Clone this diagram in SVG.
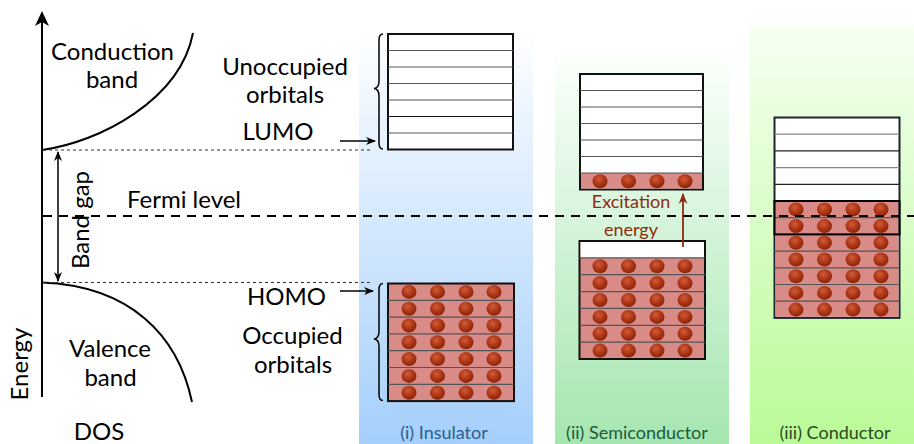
<svg xmlns="http://www.w3.org/2000/svg" xmlns:xlink="http://www.w3.org/1999/xlink" width="914" height="444" viewBox="0 0 914 444">
  <style>
    text { font-family: Lato, "Noto Sans", sans-serif; fill: #000; }
    .lbl { font-size: 24px; }
    .cap { font-size: 18px; text-anchor: middle; }
    .mid { text-anchor: middle; }
    .box { fill: #fff; stroke: #111; stroke-width: 2; }
    .occ { fill: #d98b87; }
    .row { stroke: #555; stroke-width: 1.2; }
    .ax { stroke: #000; stroke-width: 2; fill: none; }
    .thin { stroke: #333; stroke-width: 1; stroke-dasharray: 3 3; fill: none; }
    .fermi { stroke: #000; stroke-width: 2; stroke-dasharray: 9 7; fill: none; }
    .brace { stroke: #000; stroke-width: 1.5; fill: none; }
  </style>
  <defs>
    <linearGradient id="gBlue" x1="0" y1="0" x2="0" y2="1">
      <stop offset="0" stop-color="#ffffff"/>
      <stop offset="1" stop-color="#a5cffb"/>
    </linearGradient>
    <linearGradient id="gSemi" x1="0" y1="0" x2="0" y2="1">
      <stop offset="0" stop-color="#fbfffb"/>
      <stop offset="1" stop-color="#a5e6b0"/>
    </linearGradient>
    <linearGradient id="gCond" x1="0" y1="0" x2="0" y2="1">
      <stop offset="0" stop-color="#f6fff2"/>
      <stop offset="1" stop-color="#b9fa96"/>
    </linearGradient>
    <radialGradient id="eg" cx="0.42" cy="0.35" r="0.7">
      <stop offset="0" stop-color="#cf5c38"/>
      <stop offset="0.5" stop-color="#b03818"/>
      <stop offset="1" stop-color="#862006"/>
    </radialGradient>
    <g id="row4">
      <ellipse cx="21" cy="0" rx="7.5" ry="7" fill="url(#eg)"/>
      <ellipse cx="49.5" cy="0" rx="7.5" ry="7" fill="url(#eg)"/>
      <ellipse cx="78" cy="0" rx="7.5" ry="7" fill="url(#eg)"/>
      <ellipse cx="106" cy="0" rx="7.5" ry="7" fill="url(#eg)"/>
    </g>
    <marker id="ah" viewBox="0 0 10 10" refX="9" refY="5" markerWidth="10" markerHeight="10" markerUnits="userSpaceOnUse" orient="auto-start-reverse">
      <path d="M0,1 L10,5 L0,9 L3,5 z" fill="#000"/>
    </marker>
    <marker id="ahRed" viewBox="0 0 10 10" refX="9" refY="5" markerWidth="11" markerHeight="11" markerUnits="userSpaceOnUse" orient="auto">
      <path d="M0,1 L10,5 L0,9 L3,5 z" fill="#8b2b10"/>
    </marker>
  </defs>

  <!-- coloured background panels -->
  <rect x="359" y="27" width="174" height="417" fill="url(#gBlue)"/>
  <rect x="555" y="57" width="174" height="387" fill="url(#gSemi)"/>
  <rect x="750" y="25" width="164" height="419" fill="url(#gCond)"/>

  <!-- density of states sketch -->
  <g id="dos">
    <line class="ax" x1="42" y1="397" x2="42" y2="16"/>
    <path d="M35,26 L42,11 L49,26 L42,22 z" fill="#000"/>
    <path class="ax" d="M42,150 C100,142 180,100 193,33"/>
    <path class="ax" d="M42,282.5 C130,286 178,335 192,402"/>
    <text class="lbl mid" x="112.5" y="60">Conduction</text>
    <text class="lbl mid" x="112" y="88">band</text>
    <text class="lbl mid" x="110" y="357">Valence</text>
    <text class="lbl mid" x="110.5" y="386">band</text>
    <text class="lbl mid" transform="translate(28,364) rotate(-90)">Energy</text>
    <text class="lbl mid" x="99" y="440">DOS</text>
  </g>

  <g id="band-gap">
    <line x1="58" y1="152" x2="58" y2="281" stroke="#000" stroke-width="1.5" marker-start="url(#ah)" marker-end="url(#ah)"/>
    <text class="lbl mid" transform="translate(89,220) rotate(-90)">Band gap</text>
  </g>

  <g id="labels">
    <text class="lbl mid" x="285" y="75">Unoccupied</text>
    <text class="lbl mid" x="285" y="103">orbitals</text>
    <text class="lbl mid" x="278" y="140">LUMO</text>
    <text class="lbl" x="127" y="208">Fermi level</text>
    <text class="lbl mid" x="286.5" y="305">HOMO</text>
    <text class="lbl mid" x="292.5" y="344">Occupied</text>
    <text class="lbl mid" x="293" y="372.5">orbitals</text>
  </g>

  <!-- (i) insulator -->
  <g id="insulator-empty">
    <rect class="box" x="388" y="34" width="125" height="115.5"/>
    <g class="row">
      <line x1="388" y1="50.5" x2="513" y2="50.5"/>
      <line x1="388" y1="67" x2="513" y2="67"/>
      <line x1="388" y1="83.5" x2="513" y2="83.5"/>
      <line x1="388" y1="100" x2="513" y2="100"/>
      <line x1="388" y1="116.5" x2="513" y2="116.5" stroke="#111"/>
      <line x1="388" y1="133" x2="513" y2="133"/>
    </g>
    <path class="brace" d="M383,34 q-4,0 -4,6 v41 q0,7 -5,7.5 q5,0.5 5,7.5 v47 q0,6 4,6"/>
  </g>
  <g id="insulator-full">
    <rect class="box occ" x="388" y="283.5" width="126" height="117.6"/>
    <g class="row">
      <line x1="388" y1="300.3" x2="514" y2="300.3"/>
      <line x1="388" y1="317.1" x2="514" y2="317.1"/>
      <line x1="388" y1="333.9" x2="514" y2="333.9"/>
      <line x1="388" y1="350.7" x2="514" y2="350.7"/>
      <line x1="388" y1="367.5" x2="514" y2="367.5"/>
      <line x1="388" y1="384.3" x2="514" y2="384.3"/>
    </g>
    <use href="#row4" x="388" y="291.9"/>
    <use href="#row4" x="388" y="308.7"/>
    <use href="#row4" x="388" y="325.5"/>
    <use href="#row4" x="388" y="342.3"/>
    <use href="#row4" x="388" y="359.1"/>
    <use href="#row4" x="388" y="375.9"/>
    <use href="#row4" x="388" y="392.7"/>
    <path class="brace" d="M383,283.5 q-4,0 -4,6 v42 q0,7 -5,7.5 q5,0.5 5,7.5 v48 q0,6 4,6"/>
  </g>
  <text class="cap" x="444" y="439" style="fill:#2c5e8e">(i) Insulator</text>

  <!-- (ii) semiconductor -->
  <g id="semi-upper">
    <rect class="box" x="580" y="74" width="123" height="115.5"/>
    <rect class="occ" x="581" y="173" width="121" height="15.5"/>
    <g class="row">
      <line x1="580" y1="90.5" x2="703" y2="90.5"/>
      <line x1="580" y1="107" x2="703" y2="107"/>
      <line x1="580" y1="123.5" x2="703" y2="123.5"/>
      <line x1="580" y1="140" x2="703" y2="140"/>
      <line x1="580" y1="156.5" x2="703" y2="156.5"/>
      <line x1="580" y1="173" x2="703" y2="173"/>
    </g>
    <use href="#row4" x="579" y="181.3"/>
  </g>
  <g id="semi-lower">
    <rect class="box occ" x="579.5" y="241" width="125.5" height="118"/>
    <rect x="580.5" y="242" width="123.5" height="15.9" fill="#fff"/>
    <g class="row">
      <line x1="579.5" y1="257.9" x2="705" y2="257.9"/>
      <line x1="579.5" y1="274.7" x2="705" y2="274.7"/>
      <line x1="579.5" y1="291.6" x2="705" y2="291.6"/>
      <line x1="579.5" y1="308.4" x2="705" y2="308.4"/>
      <line x1="579.5" y1="325.3" x2="705" y2="325.3"/>
      <line x1="579.5" y1="342.1" x2="705" y2="342.1"/>
    </g>
    <use href="#row4" x="579" y="266.3"/>
    <use href="#row4" x="579" y="283.1"/>
    <use href="#row4" x="579" y="300"/>
    <use href="#row4" x="579" y="316.9"/>
    <use href="#row4" x="579" y="333.7"/>
    <use href="#row4" x="579" y="350.6"/>
  </g>
  <text class="cap" x="637" y="439" style="fill:#1d5a3a">(ii) Semiconductor</text>

  <!-- (iii) conductor -->
  <g id="conductor">
    <rect class="box" x="774.5" y="117.5" width="125" height="200.4" style="stroke:#1a2530"/>
    <rect class="occ" x="775.5" y="201" width="123" height="115.9"/>
    <g class="row">
      <line x1="774.5" y1="134.2" x2="899.5" y2="134.2" stroke="#888"/>
      <line x1="774.5" y1="150.9" x2="899.5" y2="150.9" stroke="#222"/>
      <line x1="774.5" y1="167.6" x2="899.5" y2="167.6" stroke="#888"/>
      <line x1="774.5" y1="184.3" x2="899.5" y2="184.3" stroke="#222"/>
      <line x1="774.5" y1="217.7" x2="899.5" y2="217.7"/>
      <line x1="774.5" y1="234.4" x2="899.5" y2="234.4"/>
      <line x1="774.5" y1="251.1" x2="899.5" y2="251.1"/>
      <line x1="774.5" y1="267.8" x2="899.5" y2="267.8"/>
      <line x1="774.5" y1="284.5" x2="899.5" y2="284.5"/>
      <line x1="774.5" y1="301.2" x2="899.5" y2="301.2"/>
    </g>
    <use href="#row4" x="775" y="209.4"/>
    <use href="#row4" x="775" y="226.1"/>
    <use href="#row4" x="775" y="242.8"/>
    <use href="#row4" x="775" y="259.5"/>
    <use href="#row4" x="775" y="276.2"/>
    <use href="#row4" x="775" y="292.9"/>
    <use href="#row4" x="775" y="309.6"/>
    <rect x="774.5" y="201" width="125" height="33.4" fill="none" stroke="#000" stroke-width="2"/>
  </g>
  <text class="cap" x="835" y="439" style="fill:#2a4a22">(iii) Conductor</text>

  <!-- connectors and level lines -->
  <g id="connectors">
    <line class="thin" x1="43" y1="150" x2="372" y2="150"/>
    <line class="thin" x1="43" y1="282.5" x2="370" y2="282.5"/>
    <line x1="340" y1="141" x2="375" y2="141" stroke="#000" stroke-width="1.5" marker-end="url(#ah)"/>
    <line x1="340" y1="291" x2="373" y2="291" stroke="#000" stroke-width="1.5" marker-end="url(#ah)"/>
    <line class="fermi" x1="43" y1="216" x2="914" y2="216"/>
    <line x1="683" y1="247" x2="683" y2="194" stroke="#8b2b10" stroke-width="1.8" marker-end="url(#ahRed)"/>
  </g>
  <g id="excitation">
    <text class="cap" x="631" y="208" style="fill:#8b2b10">Excitation</text>
    <text class="cap" x="631" y="236" style="fill:#8b2b10">energy</text>
  </g>
</svg>
